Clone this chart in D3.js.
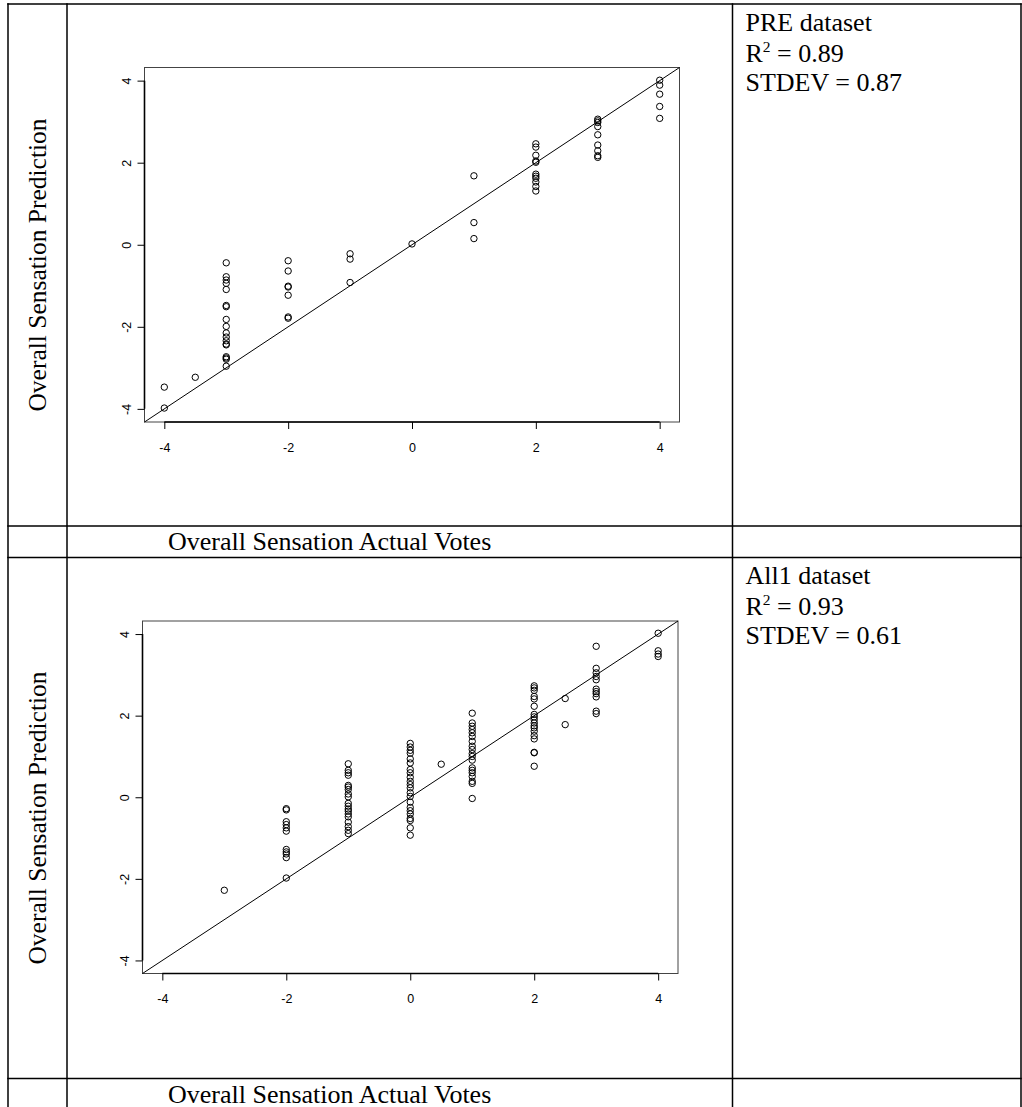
<!DOCTYPE html>
<html>
<head>
<meta charset="utf-8">
<script src="https://cdn.jsdelivr.net/npm/d3@7"></script>
<style>
  html, body { margin: 0; padding: 0; background: #fff; }
  svg { display: block; }
</style>
</head>
<body>
<svg id="chart" width="1022" height="1107"></svg>
<script>
// ---------- DATA ----------
const tickValues = [-4, -2, 0, 2, 4];
const xLabel = "Overall Sensation Actual Votes";
const yLabel = "Overall Sensation Prediction";

// PRE dataset: actual vote levels and the predictions at each level
const preActual = [-4, -3.5, -3, -2, -1, 0, 1, 2, 3, 4];
const prePredicted = [
  [-3.47, -3.98],
  [-3.23],
  [-0.44, -0.78, -0.86, -0.94, -1.09, -1.48, -1.51, -1.82, -1.99, -2.15, -2.25, -2.34, -2.42, -2.44, -2.73, -2.76, -2.79, -2.96],
  [-0.39, -0.64, -1.01, -1.03, -1.23, -1.76, -1.79],
  [-0.22, -0.35, -0.92],
  [0.02],
  [1.68, 0.54, 0.15],
  [2.46, 2.38, 2.18, 2.04, 2.01, 1.72, 1.67, 1.62, 1.53, 1.42, 1.31],
  [3.06, 3.02, 2.98, 2.88, 2.68, 2.43, 2.29, 2.17, 2.13],
  [4.01, 3.89, 3.67, 3.37, 3.08]
];
const preStats = ["PRE dataset", "0.89", "STDEV = 0.87"];

// All1 dataset
const all1Actual = [-3, -2, -1, 0, 0.5, 1, 2, 2.5, 3, 4];
const all1Predicted = [
  [-2.28],
  [-0.28, -0.31, -0.60, -0.67, -0.75, -0.83, -1.28, -1.34, -1.39, -1.48, -1.98],
  [0.82, 0.66, 0.60, 0.54, 0.29, 0.25, 0.19, 0.08, 0.01, -0.15, -0.22, -0.29, -0.34, -0.41, -0.48, -0.61, -0.72, -0.81, -0.89],
  [1.32, 1.23, 1.15, 1.08, 0.94, 0.84, 0.68, 0.60, 0.49, 0.39, 0.31, 0.23, 0.11, 0.02, -0.12, -0.25, -0.33, -0.41, -0.52, -0.57, -0.75, -0.93],
  [0.81],
  [2.06, 1.82, 1.74, 1.66, 1.58, 1.49, 1.37, 1.25, 1.17, 1.07, 1.00, 0.91, 0.72, 0.66, 0.60, 0.51, 0.39, 0.34, -0.03],
  [2.73, 2.68, 2.62, 2.47, 2.41, 2.23, 2.03, 1.97, 1.90, 1.82, 1.75, 1.70, 1.62, 1.51, 1.43, 1.10, 1.09, 0.76],
  [2.42, 1.78],
  [3.70, 3.16, 3.05, 2.96, 2.88, 2.65, 2.59, 2.54, 2.46, 2.11, 2.05],
  [4.02, 3.59, 3.51, 3.45]
];
const all1Stats = ["All1 dataset", "0.93", "STDEV = 0.61"];

// ---------- LAYOUT ----------
const svg = d3.select("#chart");
const serif = "'Liberation Serif', 'Times New Roman', serif";
const sans = "'Liberation Sans', Arial, sans-serif";
const domainExt = [-4.32, 4.32];

// table grid
const colX = [8, 67, 732.5, 1021];
const rowY = [4, 526, 557.5, 1078.5];
const grid = svg.append("g").attr("stroke", "#000").attr("stroke-width", 1.5);
colX.forEach(x => grid.append("line").attr("x1", x).attr("x2", x).attr("y1", rowY[0] - 0.75).attr("y2", 1107));
rowY.forEach(y => grid.append("line").attr("x1", colX[0] - 0.75).attr("x2", colX[3] + 0.75).attr("y1", y).attr("y2", y));

function panel(cfg) {
  const { actual, predicted, stats, box, cellTop, cellBottom, labelRowBase } = cfg;
  const x = d3.scaleLinear().domain(domainExt).range([box.left, box.right]);
  const y = d3.scaleLinear().domain(domainExt).range([box.bottom, box.top]);
  const g = svg.append("g");

  // box
  g.append("rect").attr("x", box.left).attr("y", box.top)
    .attr("width", box.right - box.left).attr("height", box.bottom - box.top)
    .attr("fill", "none").attr("stroke", "#444").attr("stroke-width", 1);

  // x axis
  const xa = g.append("g").attr("transform", `translate(0,${box.bottom})`)
    .call(d3.axisBottom(x).tickValues(tickValues).tickSize(7).tickPadding(14).tickFormat(d3.format("d")));
  xa.select(".domain").remove();
  xa.append("line").attr("x1", x(-4)).attr("x2", x(4)).attr("stroke", "#000").attr("stroke-width", 1.6);
  xa.selectAll(".tick line").attr("stroke", "#000").attr("stroke-width", 1);
  xa.selectAll(".tick text").attr("font-family", sans).attr("font-size", 12.5).attr("fill", "#000")
    .text(d => d < 0 ? "-" + Math.abs(d) : d);

  // y axis
  const ya = g.append("g").attr("transform", `translate(${box.left},0)`)
    .call(d3.axisLeft(y).tickValues(tickValues).tickSize(7).tickFormat(d3.format("d")));
  ya.select(".domain").remove();
  ya.append("line").attr("y1", y(-4)).attr("y2", y(4)).attr("stroke", "#000").attr("stroke-width", 1.6);
  ya.selectAll(".tick line").attr("stroke", "#000").attr("stroke-width", 1);
  ya.selectAll(".tick text").remove();
  ya.selectAll(".tick").append("text")
    .attr("transform", "translate(-13.5,0) rotate(-90)")
    .attr("text-anchor", "middle")
    .attr("font-family", sans).attr("font-size", 12.5).attr("fill", "#000")
    .text(d => d < 0 ? "-" + Math.abs(d) : d);

  // 1:1 line
  g.append("line").attr("x1", x(domainExt[0])).attr("y1", y(domainExt[0]))
    .attr("x2", x(domainExt[1])).attr("y2", y(domainExt[1]))
    .attr("stroke", "#000").attr("stroke-width", 1);

  // points
  const pts = [];
  actual.forEach((a, i) => predicted[i].forEach(p => pts.push([a, p])));
  g.append("g").selectAll("circle").data(pts).join("circle")
    .attr("cx", d => x(d[0])).attr("cy", d => y(d[1])).attr("r", 3.2)
    .attr("fill", "none").attr("stroke", "#000").attr("stroke-width", 1);

  // y label (rotated, centered in first column cell)
  svg.append("text")
    .attr("transform", `translate(46,${(cellTop + cellBottom) / 2}) rotate(-90)`)
    .attr("text-anchor", "middle").attr("font-family", serif).attr("font-size", 25.5)
    .attr("fill", "#000").text(yLabel);

  // x label row
  svg.append("text").attr("x", 168).attr("y", labelRowBase)
    .attr("font-family", serif).attr("font-size", 26).attr("fill", "#000").text(xLabel);

  // stats text
  const st = svg.append("g").attr("font-family", serif).attr("font-size", 26).attr("fill", "#000");
  st.append("text").attr("x", 745.5).attr("y", cellTop + 26.5).text(stats[0]);
  const r2 = st.append("text").attr("x", 745.5).attr("y", cellTop + 57.5);
  r2.append("tspan").text("R");
  r2.append("tspan").attr("font-size", 15.5).attr("dy", -10).text("2");
  r2.append("tspan").attr("dy", 10).text(" = " + stats[1]);
  st.append("text").attr("x", 745.5).attr("y", cellTop + 86.5).text(stats[2]);
}

panel({
  actual: preActual, predicted: prePredicted, stats: preStats,
  box: { left: 144.5, right: 679.5, top: 67.5, bottom: 422 },
  cellTop: rowY[0], cellBottom: rowY[1], labelRowBase: 550
});
panel({
  actual: all1Actual, predicted: all1Predicted, stats: all1Stats,
  box: { left: 142.5, right: 678, top: 621, bottom: 973.5 },
  cellTop: rowY[2], cellBottom: rowY[3], labelRowBase: 1102.5
});
</script>
</body>
</html>
